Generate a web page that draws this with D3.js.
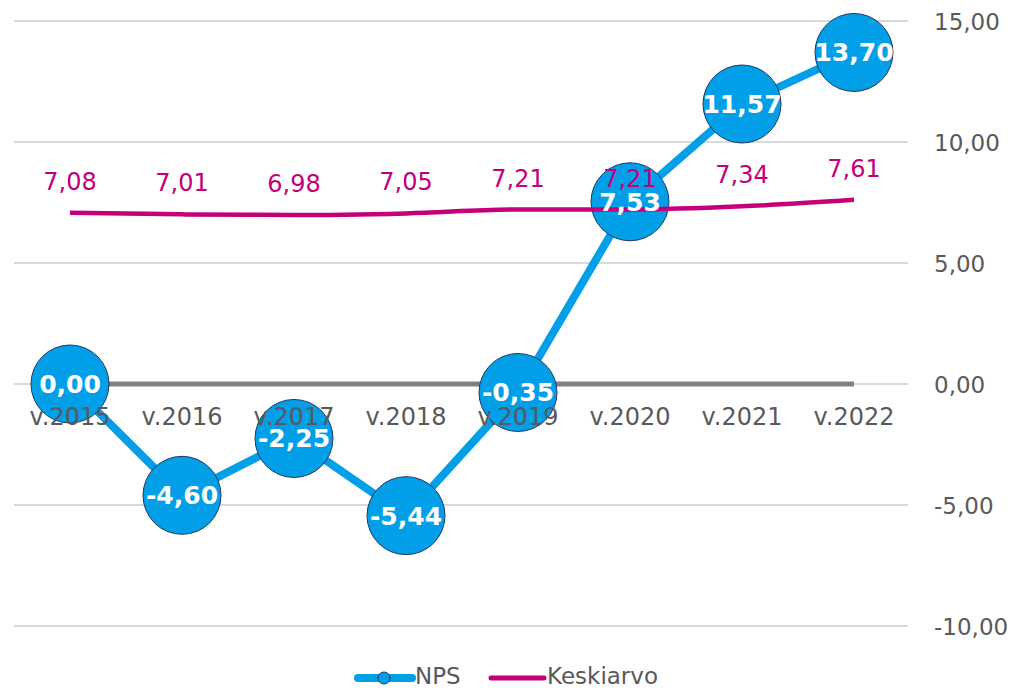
<!DOCTYPE html>
<html><head><meta charset="utf-8">
<script src="https://cdn.jsdelivr.net/npm/d3@7"></script>
<style>body{margin:0;background:#fff}svg{display:block}text{font-family:Verdana,"DejaVu Sans",sans-serif}</style>
</head><body>
<script>
const categories = ["v.2015","v.2016","v.2017","v.2018","v.2019","v.2020","v.2021","v.2022"];
const nps = [0.00,-4.60,-2.25,-5.44,-0.35,7.53,11.57,13.70];
const keskiarvo = [7.08,7.01,6.98,7.05,7.21,7.21,7.34,7.61];
const zeroLine = [0,0,0,0,0,0,0,0];
const yTicks = [-10,-5,0,5,10,15];

const W=1017,H=691;
const svg=d3.select("body").append("svg").attr("width",W).attr("height",H);
const x=d3.scaleBand().domain(categories).range([14,910]);
const cx=d=>x(d)+x.bandwidth()/2;
const y=d3.scaleLinear().domain([-10,15]).range([626,21]);
const fmt=v=>v.toFixed(2).replace(".",",");

// gridlines
const yAxis=d3.axisRight(y).tickValues(yTicks).tickSize(0).tickFormat(fmt);
svg.append("g").selectAll("line").data(yTicks).join("line")
  .attr("x1",14).attr("x2",908).attr("y1",d=>y(d)).attr("y2",d=>y(d))
  .attr("stroke","#d9d9d9").attr("stroke-width",2);
const ga=svg.append("g").attr("transform","translate(934,0)").call(yAxis);
ga.select(".domain").remove();
ga.selectAll("text").attr("fill","#595959").attr("font-size",23).attr("x",0).attr("dy","0.35em").attr("text-anchor","start");

// zero line series
svg.append("path").datum(zeroLine)
  .attr("d",d3.line().x((d,i)=>cx(categories[i])).y(d=>y(d)))
  .attr("fill","none").attr("stroke","#808080").attr("stroke-width",5);

// NPS line
svg.append("path").datum(nps)
  .attr("d",d3.line().x((d,i)=>cx(categories[i])).y(d=>y(d)))
  .attr("fill","none").attr("stroke","#009FE8").attr("stroke-width",8).attr("stroke-linejoin","round");
svg.append("g").selectAll("circle").data(nps).join("circle")
  .attr("cx",(d,i)=>cx(categories[i])).attr("cy",d=>y(d)).attr("r",39)
  .attr("fill","#009FE8").attr("stroke","#1F3864").attr("stroke-width",1);

// category labels (drawn over markers)
svg.append("g").selectAll("text").data(categories).join("text")
  .attr("x",d=>cx(d)).attr("y",y(0)+41).attr("text-anchor","middle")
  .attr("fill","#595959").attr("font-size",24).text(d=>d);

// Keskiarvo line
svg.append("path").datum(keskiarvo)
  .attr("d",d3.line().curve(d3.curveMonotoneX).x((d,i)=>cx(categories[i])).y(d=>y(d)))
  .attr("fill","none").attr("stroke","#C3007A").attr("stroke-width",4.5);

// Keskiarvo labels
svg.append("g").selectAll("text").data(keskiarvo).join("text")
  .attr("x",(d,i)=>cx(categories[i])).attr("y",d=>y(d)-23).attr("text-anchor","middle")
  .attr("fill","#C3007A").attr("font-size",24).text(fmt);

// NPS labels
svg.append("g").selectAll("text").data(nps).join("text")
  .attr("x",(d,i)=>cx(categories[i])).attr("y",d=>y(d)).attr("dy","0.36em").attr("text-anchor","middle")
  .attr("fill","#fff").attr("font-size",25).attr("font-weight","bold").text(fmt);

// legend
const lg=svg.append("g");
const ly=676;
lg.append("line").attr("x1",358).attr("x2",412).attr("y1",ly+2).attr("y2",ly+2).attr("stroke","#009FE8").attr("stroke-width",8).attr("stroke-linecap","round");
lg.append("circle").attr("cx",384).attr("cy",ly+2).attr("r",6).attr("fill","#009FE8").attr("stroke","#1F3864").attr("stroke-width",1);
lg.append("text").attr("x",415).attr("y",ly).attr("dy","0.36em").attr("fill","#595959").attr("font-size",23).text("NPS");
lg.append("line").attr("x1",491).attr("x2",544).attr("y1",ly+2).attr("y2",ly+2).attr("stroke","#C3007A").attr("stroke-width",5).attr("stroke-linecap","round");
lg.append("text").attr("x",547).attr("y",ly).attr("dy","0.36em").attr("fill","#595959").attr("font-size",23).text("Keskiarvo");
</script>
</body></html>
